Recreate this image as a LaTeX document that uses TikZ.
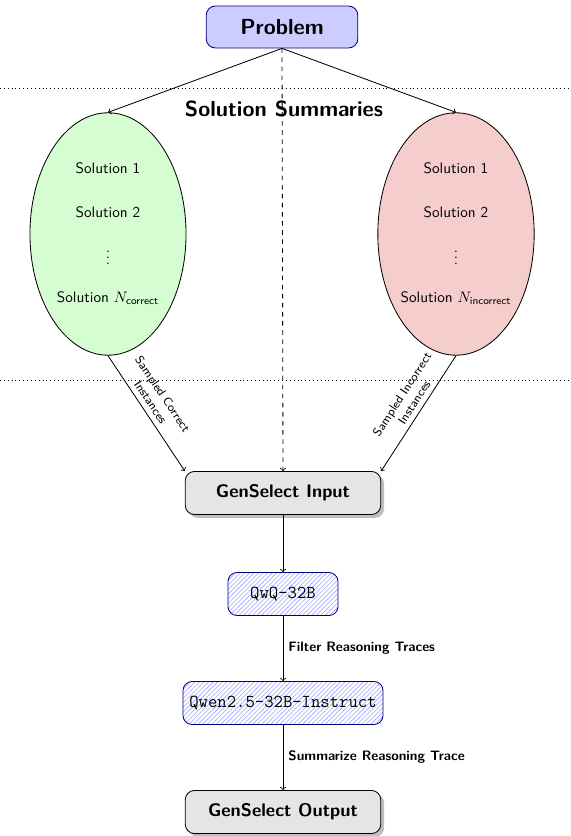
\documentclass[tikz,border=0pt]{standalone}
\usepackage{amsmath}
\usetikzlibrary{shapes.geometric, shadows, patterns, arrows}
\renewcommand{\familydefault}{\sfdefault}
\definecolor{wrongpink}{RGB}{246,205,205}
\definecolor{rightgreen}{RGB}{214,253,210}

\begin{document}
\begin{tikzpicture}[x=0.66pt, y=-0.66pt, line width=0.55pt]

\tikzset{topbox/.style = {rectangle, rounded corners=6pt, draw=blue!50!black, fill=blue!20, minimum width=100pt, minimum height=27.7pt, font=\Large\bfseries}}
\tikzset{graybox/.style = {rectangle, rounded corners=6pt, draw=black, fill=gray!20, drop shadow, minimum width=129pt, minimum height=28.4pt, font=\large\bfseries}}
\tikzset{model/.style = {rectangle, rounded corners=6pt, draw=blue!50!black, pattern=north east lines, pattern color=blue!35, minimum height=28.4pt, font=\large\ttfamily}}
\tikzset{pool/.style = {ellipse, draw, inner xsep=0pt, minimum width=103pt, minimum height=160pt, align=center}}
\tikzset{edge/.style = {->}}
\useasboundingbox (0,0) rectangle (570,836);
%separators
\draw[dotted] (0,88) -- (570,88);
\draw[dotted] (0,380) -- (570,380);
%verticies
\node[topbox] (p) at (282,27) {Problem};
\node[font=\Large\bfseries] (t) at (284,109) {Solution Summaries};
\node[pool, fill=rightgreen] (c) at (108,234) {Solution 1\\[17pt] Solution 2\\[15pt] $\vdots$\\[13pt] Solution $N_{\textsf{correct}}$};
\node[pool, fill=wrongpink] (w) at (456,234) {Solution 1\\[17pt] Solution 2\\[15pt] $\vdots$\\[13pt] Solution $N_{\textsf{incorrect}}$};
\node[graybox] (in) at (283,493) {GenSelect Input};
\node[model, minimum width=72.6pt] (q) at (283,594) {QwQ-32B};
\node[model, minimum width=132pt] (qw) at (283,703) {Qwen2.5-32B-Instruct};
\node[graybox] (out) at (283,812) {GenSelect Output};
%edges
\draw [edge] (p.south) -- (c.north);
\draw [edge] (p.south) -- (w.north);
\draw [edge, dashed] (p.south) -- (in.north);
\draw [edge] (c.south) -- (in.north west) node [pos=0.45, above, sloped, align=center, font=\footnotesize] {Sampled Correct\\Instances};
\draw [edge] (w.south) -- (in.north east) node [pos=0.45, above, sloped, align=center, font=\footnotesize] {Sampled Incorrect\\Instances};
\draw [edge] (in) -- (q);
\draw [edge] (q) -- (qw) node [midway, right, font=\small\bfseries] {Filter Reasoning Traces};
\draw [edge] (qw) -- (out) node [midway, right, font=\small\bfseries] {Summarize Reasoning Trace};

\end{tikzpicture}
\end{document}
